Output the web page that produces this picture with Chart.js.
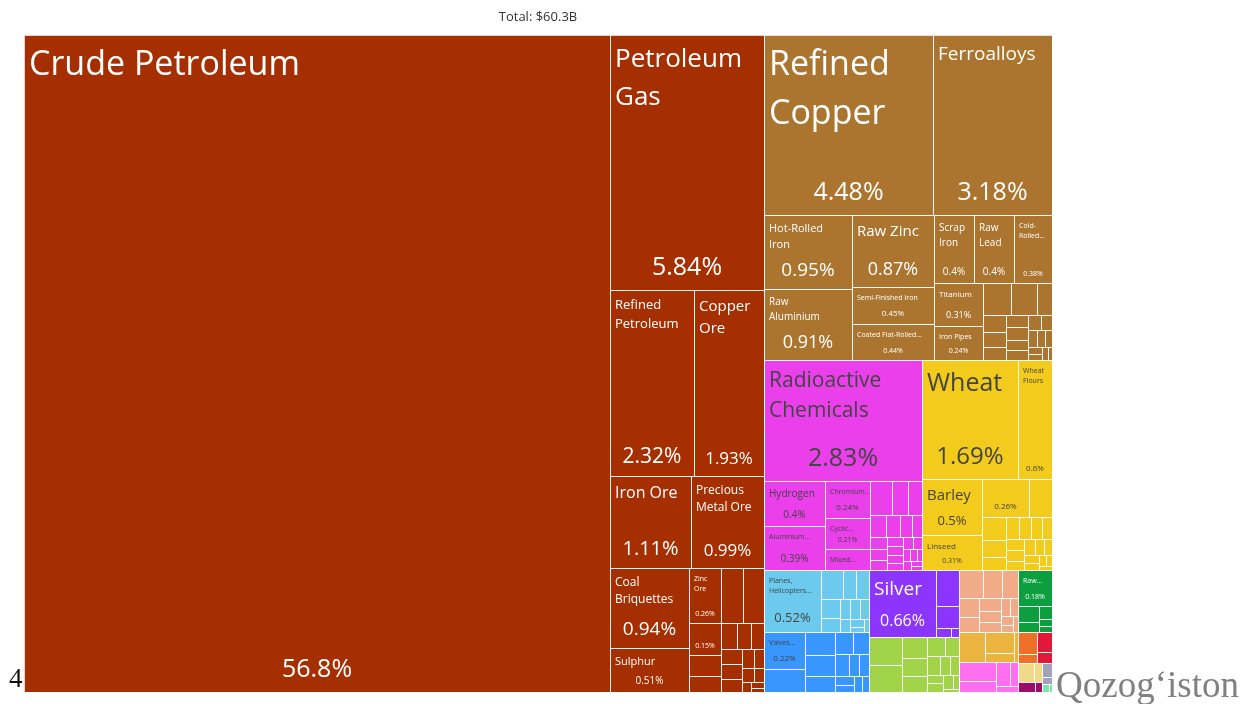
<!DOCTYPE html>
<html>
<head>
<meta charset="utf-8">
<title>Exports treemap</title>
<script src="https://cdn.jsdelivr.net/npm/chart.js@4.4.1/dist/chart.umd.min.js"></script>
<style>
  html, body { margin: 0; padding: 0; background: #fff; }
  #wrap { position: relative; width: 1241px; height: 704px; }
</style>
</head>
<body>
<div id="wrap"><canvas id="chart"></canvas></div>
<script>
/* ============================================================
   Export treemap - share of total exports (%), total $60.3B
   ============================================================ */

// --- DATA ---
const mineralNames = ["Crude Petroleum", "Petroleum Gas", "Refined Petroleum", "Copper Ore", "Iron Ore",
    "Precious Metal Ore", "Coal Briquettes", "Sulphur", "Zinc Ore", "Chromium Ore", "Lead Ore", "Manganese Ore",
    "Petroleum Coke", "Coal Tar Oil", "Titanium Ore", "Molybdenum Ore", "Cement", "Gypsum", "Salt",
    "Petroleum Jelly", "Asphalt", "Clays", "Quartz", "Lignite", "Aluminium Ore", "Tungsten Ore", "Kaolin"];
const mineralValues = [56.8, 5.84, 2.32, 1.93, 1.11, 0.99, 0.94, 0.51, 0.26, 0.18, 0.17, 0.15,
    0.1, 0.075, 0.062, 0.055, 0.05, 0.048, 0.045, 0.04, 0.035, 0.03, 0.025, 0.02, 0.015, 0.012, 0.008];

const metalNames = ["Refined Copper", "Ferroalloys", "Hot-Rolled Iron", "Raw Aluminium", "Raw Zinc",
    "Semi-Finished Iron", "Coated Flat-Rolled Iron", "Scrap Iron", "Raw Lead", "Cold-Rolled Iron", "Titanium",
    "Iron Pipes", "Copper Wire", "Aluminium Bars", "Iron Bars", "Raw Tin", "Iron Structures",
    "Stainless Steel Ingots", "Iron Wire", "Zinc Powder", "Aluminium Plating", "Copper Bars", "Iron Fasteners",
    "Aluminium Wire", "Tungsten", "Iron Blocks", "Copper Pipes", "Other Iron Products", "Hot-Rolled Iron Bars",
    "Large Flat-Rolled Stainless Steel", "Small Iron Pipes"];
const metalValues = [4.48, 3.18, 0.95, 0.91, 0.87, 0.45, 0.44, 0.4, 0.4, 0.38, 0.31, 0.24,
    0.13, 0.12, 0.07, 0.06, 0.05, 0.045, 0.04, 0.04, 0.035, 0.03, 0.03, 0.025, 0.022, 0.02, 0.018,
    0.015, 0.012, 0.01, 0.008];

const chemicalNames = ["Radioactive Chemicals", "Hydrogen", "Aluminium Oxide", "Chromium Oxides and Hydroxides",
    "Cyclic Hydrocarbons", "Mixed Mineral or Chemical Fertilizers", "Sulfuric Acid", "Phosphoric Acid",
    "Nitrogenous Fertilizers", "Rare-Earth Metal Compounds", "Fluorides", "Potassic Fertilizers", "Carbides",
    "Soap", "Beauty Products", "Cleaning Products", "Pesticides", "Packaged Medicaments", "Acyclic Alcohols",
    "Sulfides", "Chlorides", "Hydrazine", "Carbonates", "Sulfates", "Phosphinates", "Vaccines", "Metal Oxides", "Glues"];
const chemicalValues = [2.83, 0.4, 0.39, 0.24, 0.21, 0.14, 0.11, 0.08, 0.07, 0.055, 0.045, 0.04, 0.035,
    0.03, 0.028, 0.025, 0.022, 0.02, 0.02, 0.018, 0.016, 0.015, 0.013, 0.012, 0.01, 0.01, 0.008, 0.007];

const vegetableNames = ["Wheat", "Wheat Flours", "Barley", "Linseed", "Leguminous Vegetables", "Rapeseed",
    "Soybeans", "Dried Legumes", "Rice", "Cereal Meals", "Buckwheat", "Oats", "Maize", "Rye", "Hay", "Onions",
    "Potatoes", "Cotton Seeds", "Malt", "Starches", "Tea", "Spices", "Fruits", "Sunflower Seeds"];
const vegetableValues = [1.69, 0.6, 0.5, 0.31, 0.26, 0.13, 0.08, 0.06, 0.045, 0.04, 0.04, 0.035, 0.03,
    0.03, 0.03, 0.025, 0.025, 0.022, 0.02, 0.018, 0.015, 0.012, 0.01, 0.008];

const transportNames = ["Planes, Helicopters, and/or Spacecraft", "Railway Freight Cars", "Cars",
    "Delivery Trucks", "Vehicle Parts", "Railway Passenger Cars", "Tractors", "Motorcycles",
    "Railway Cargo Containers", "Trailers", "Aircraft Parts", "Buses", "Ships"];
const transportValues = [0.52, 0.093, 0.058, 0.053, 0.05, 0.04, 0.03, 0.03, 0.025, 0.02, 0.015, 0.012, 0.008];

const machineNames = ["Valves and Taps", "Computers", "Electrical Transformers", "Centrifuges",
    "Excavation Machinery", "Insulated Wire", "Broadcasting Equipment", "Liquid Pumps", "Gas Turbines",
    "Electric Motors", "Air Pumps", "Telephones", "Engine Parts", "Electrical Switches"];
const machineValues = [0.22, 0.14, 0.1, 0.09, 0.07, 0.06, 0.05, 0.045, 0.035, 0.03, 0.025, 0.02, 0.018, 0.015];

const preciousNames = ["Silver", "Gold", "Platinum", "Precious Metal Scraps", "Jewellery"];
const preciousValues = [0.66, 0.12, 0.075, 0.02, 0.01];

const foodNames = ["Concentrated Feed", "Manufactured Tobacco", "Flavored Water", "Confectionery", "Macaroni",
    "Chocolate", "Processed Fish", "Baked Goods", "Beer", "Hard Liquor", "Cereal Flakes", "Soups", "Sauces",
    "Yeast", "Juices"];
const foodValues = [0.14, 0.13, 0.08, 0.07, 0.06, 0.05, 0.04, 0.035, 0.03, 0.025, 0.02, 0.02, 0.012, 0.02, 0.008];

const plasticNames = ["Ethylene Polymers", "Propylene Polymers", "Rubber Tires", "Plastic Lids",
    "Raw Plastic Sheeting", "Plastic Pipes", "Synthetic Rubber", "Other Plastic Sheetings", "Rubber Belts",
    "Plastic Houseware", "Vinyl Chloride Polymers", "Styrene Polymers", "Rubber Pipes"];
const plasticValues = [0.1, 0.08, 0.065, 0.055, 0.045, 0.04, 0.035, 0.03, 0.025, 0.02, 0.015, 0.013, 0.01];

const textileNames = ["Raw Cotton", "Wool", "Cotton Yarn", "Synthetic Filament Yarn", "Knit T-shirts", "Jute Yarn"];
const textileValues = [0.18, 0.05, 0.03, 0.025, 0.015, 0.01];

const byproductNames = ["Sunflower Seed Oil", "Rapeseed Oil", "Soybean Oil", "Margarine"];
const byproductValues = [0.12, 0.09, 0.04, 0.02];

const stoneNames = ["Glass Bottles", "Ceramic Bricks", "Building Stone", "Glass Fibers", "Asbestos Cement Articles"];
const stoneValues = [0.1, 0.06, 0.05, 0.03, 0.02];

const animalNames = ["Non-fillet Frozen Fish", "Bovine Meat"];
const animalValues = [0.06, 0.025];
const hideNames = ["Equine and Bovine Hides", "Sheep Hides"];
const hideValues = [0.045, 0.025];
const paperNames = ["Paper Containers", "Newsprint"];
const paperValues = [0.045, 0.023];
const footwearNames = ["Leather Footwear", "Rubber Footwear"];
const footwearValues = [0.025, 0.01];
const instrumentNames = ["Medical Instruments", "Electrical Meters"];
const instrumentValues = [0.02, 0.01];
const miscNames = ["Seats", "Toys"];
const miscValues = [0.008, 0.004];

const groupNames = ["Mineral Products", "Metals", "Chemical Products", "Vegetable Products", "Transportation",
    "Machines", "Precious Metals", "Foodstuffs", "Plastics and Rubbers", "Textiles",
    "Animal and Vegetable Bi-Products", "Stone and Glass", "Animal Products", "Animal Hides", "Paper Goods",
    "Footwear and Headwear", "Instruments", "Miscellaneous"];
const groupItems = [mineralNames, metalNames, chemicalNames, vegetableNames, transportNames, machineNames,
    preciousNames, foodNames, plasticNames, textileNames, byproductNames, stoneNames, animalNames, hideNames,
    paperNames, footwearNames, instrumentNames, miscNames];
const groupValues = [mineralValues, metalValues, chemicalValues, vegetableValues, transportValues, machineValues,
    preciousValues, foodValues, plasticValues, textileValues, byproductValues, stoneValues, animalValues, hideValues,
    paperValues, footwearValues, instrumentValues, miscValues];

// --- STYLE ---
const groupColors = ["#A52F00", "#AB752F", "#EA3FEA", "#F2CB1C", "#6CCAEE", "#3896FF", "#8B35FF", "#A2D44A",
    "#F1AB88", "#0D9E40", "#EBB43F", "#FF6FF0", "#F26F2A", "#E0193B", "#EFDA8A", "#9C0C6B", "#A3A3B7", "#74E8AA"];
const PAD = 5, LINE = 1.45, NAME_MAX = 34, SHARE_MAX = 25, MIN_FONT = 7;
const PHI = (1 + Math.sqrt(5)) / 2;

const sum = arr => arr.reduce((a, b) => a + b, 0);
const font = size => `${size}px "Open Sans", sans-serif`;

const groups = groupNames.map((name, i) => ({
    name: name,
    color: groupColors[i],
    value: sum(groupValues[i]),
    children: groupItems[i].map((n, j) => ({ name: n, value: groupValues[i][j] }))
}));

// --- 1. SQUARIFIED LAYOUT (in 0..1 scale units, ratios measured in pixels) ---
function squarify(nodes, x0, y0, x1, y1, W, H) {
    nodes.sort((a, b) => b.value - a.value);
    let value = sum(nodes.map(d => d.value));
    let i0 = 0, i1 = 0;
    const n = nodes.length;
    while (i0 < n) {
        const dx = (x1 - x0) * W, dy = (y1 - y0) * H;
        let sumValue = nodes[i1++].value;
        let minV = sumValue, maxV = sumValue;
        const alpha = Math.max(dy / dx, dx / dy) / (value * PHI);
        let beta = sumValue * sumValue * alpha;
        let minRatio = Math.max(maxV / beta, beta / minV);
        for (; i1 < n; ++i1) {
            const v = nodes[i1].value;
            sumValue += v;
            if (v < minV) minV = v;
            if (v > maxV) maxV = v;
            beta = sumValue * sumValue * alpha;
            const newRatio = Math.max(maxV / beta, beta / minV);
            if (newRatio > minRatio) { sumValue -= v; break; }
            minRatio = newRatio;
        }
        const row = nodes.slice(i0, i1);
        if (dx < dy) {
            // row along the top
            const yy = y0 + (y1 - y0) * sumValue / value;
            let xx = x0;
            row.forEach(d => { d.x0 = xx; xx += (x1 - x0) * d.value / sumValue; d.x1 = xx; d.y0 = y0; d.y1 = yy; });
            y0 = yy;
        } else {
            // column on the left
            const xx = x0 + (x1 - x0) * sumValue / value;
            let yy = y0;
            row.forEach(d => { d.y0 = yy; yy += (y1 - y0) * d.value / sumValue; d.y1 = yy; d.x0 = x0; d.x1 = xx; });
            x0 = xx;
        }
        value -= sumValue;
        i0 = i1;
    }
}

// --- 2. LABEL HELPERS ---
function textColor(hex) {
    const r = parseInt(hex.substr(1, 2), 16), g = parseInt(hex.substr(3, 2), 16), b = parseInt(hex.substr(5, 2), 16);
    return (r * 299 + g * 587 + b * 114) / 1000 >= 128 ? '#444444' : '#ffffff';
}

function joinWord(line, word) { return line.endsWith('-') ? line + word : line + ' ' + word; }

function wrapWords(ctx, words, size, limit) {
    ctx.font = font(size);
    const lines = [];
    let cur = '';
    for (const wd of words) {
        if (ctx.measureText(wd).width > limit) return null;
        const next = cur ? joinWord(cur, wd) : wd;
        if (ctx.measureText(next).width <= limit) cur = next;
        else { lines.push(cur); cur = wd; }
    }
    if (cur) lines.push(cur);
    return lines;
}

function fitName(ctx, name, bw, bh) {
    const words = name.match(/[^\s-]+-?/g) || [];
    for (let f = NAME_MAX; f >= MIN_FONT; f--) {
        const limit = f > MIN_FONT ? bw * 0.9 : bw;
        const lines = wrapWords(ctx, words, f, limit);
        if (lines && lines.length * f * LINE <= bh) return { size: f, lines: lines };
    }
    // too long even at the smallest size: cut it and add an ellipsis
    const maxLines = Math.floor(bh / (MIN_FONT * LINE));
    if (maxLines < 1) return null;
    ctx.font = font(MIN_FONT);
    const lines = [];
    let cur = '', cut = false;
    for (const wd of words) {
        const next = cur ? joinWord(cur, wd) : wd;
        if (ctx.measureText(next).width <= bw) { cur = next; continue; }
        if (cur && lines.length + 1 < maxLines && ctx.measureText(wd).width <= bw) {
            lines.push(cur); cur = wd; continue;
        }
        cut = true;
        break;
    }
    if (!cur) return null;
    lines.push(cut ? cur.replace(/[,\s-]+$/, '') + '...' : cur);
    return { size: MIN_FONT, lines: lines };
}

function formatShare(v) { return parseFloat(v.toPrecision(3)) + '%'; }

function drawLabel(ctx, cell, color, px0, py0, px1, py1) {
    const w = px1 - px0, h = py1 - py0;
    const bw = w - 2 * PAD;
    if (bw <= 0 || h < 12) return;
    let sh = Math.min(50, (h - 10) * 0.5);
    if (sh < 10) sh = 0;
    const bh = h - sh - 2 * PAD;
    ctx.fillStyle = textColor(color);
    ctx.textBaseline = 'alphabetic';

    const label = (w >= 40 || h >= 30) ? fitName(ctx, cell.name, bw, bh) : null;
    if (label) {
        ctx.font = font(label.size);
        ctx.textAlign = 'left';
        label.lines.forEach((line, i) => {
            ctx.fillText(line, px0 + PAD, py0 + PAD + label.size + 1 + i * label.size * LINE);
        });
    }
    if (sh > 0) {
        const txt = formatShare(cell.value);
        ctx.font = font(100);
        const em = ctx.measureText(txt).width / 100;
        let fs = Math.min(SHARE_MAX, Math.floor(sh * 0.6), Math.floor(bw * 0.8 / em));
        if (fs < MIN_FONT) fs = (em * MIN_FONT <= bw) ? MIN_FONT : 0;
        if (fs) {
            ctx.font = font(fs);
            ctx.textAlign = 'center';
            ctx.fillText(txt, (px0 + px1) / 2, py1 - 4 - fs * 0.45);
        }
    }
}

// --- 3. TREEMAP PLUGIN (draws through the chart's x / y scales) ---
const treemapPlugin = {
    id: 'treemap',
    afterDatasetsDraw(chart) {
        const { ctx, chartArea, scales: { x, y } } = chart;
        const W = chartArea.right - chartArea.left, H = chartArea.bottom - chartArea.top;

        const top = groups.map(g => ({ group: g, value: g.value }));
        squarify(top, 0, 0, 1, 1, W, H);
        const cells = [];
        top.forEach(node => {
            const kids = node.group.children.map(c => ({ name: c.name, value: c.value }));
            squarify(kids, node.x0, node.y0, node.x1, node.y1, W, H);
            kids.forEach(k => cells.push({ cell: k, color: node.group.color }));
        });

        ctx.save();
        cells.forEach(c => {
            c.px0 = Math.round(x.getPixelForValue(c.cell.x0));
            c.px1 = Math.round(x.getPixelForValue(c.cell.x1));
            c.py0 = Math.round(y.getPixelForValue(c.cell.y0));
            c.py1 = Math.round(y.getPixelForValue(c.cell.y1));
            ctx.fillStyle = c.color;
            ctx.fillRect(c.px0, c.py0, c.px1 - c.px0, c.py1 - c.py0);
        });
        ctx.strokeStyle = 'rgba(255,255,255,0.78)';
        ctx.lineWidth = 1;
        cells.forEach(c => ctx.strokeRect(c.px0 + 0.5, c.py0 + 0.5, c.px1 - c.px0, c.py1 - c.py0));
        cells.forEach(c => drawLabel(ctx, c.cell, c.color, c.px0, c.py0, c.px1, c.py1));
        ctx.restore();
    },
    afterDraw(chart) {
        // stray page texts around the chart
        const ctx = chart.ctx;
        ctx.save();
        ctx.textAlign = 'left';
        ctx.textBaseline = 'alphabetic';
        ctx.fillStyle = '#111111';
        ctx.font = '27px "Liberation Serif", serif';
        ctx.fillText('4', 9, 687);
        ctx.fillStyle = '#808080';
        ctx.font = '37px "Liberation Serif", serif';
        ctx.fillText('Qozog\u2018iston', 1056, 697);
        ctx.restore();
    }
};

// --- 4. CHART ---
new Chart(document.getElementById('chart'), {
    type: 'scatter',
    data: {
        datasets: groups.map(g => ({ label: g.name, data: [], backgroundColor: g.color }))
    },
    options: {
        responsive: true,
        maintainAspectRatio: false,
        animation: false,
        layout: { padding: { left: 24, right: 189, top: 9.4, bottom: 12 } },
        scales: {
            x: { type: 'linear', min: 0, max: 1, display: false },
            y: { type: 'linear', min: 0, max: 1, reverse: true, display: false }
        },
        plugins: {
            legend: { display: false },
            tooltip: { enabled: false },
            title: {
                display: true,
                text: 'Total: $60.3B',
                color: '#333333',
                font: { family: 'Open Sans', size: 13, weight: 'normal' },
                padding: { top: 0, bottom: 10 }
            }
        }
    },
    plugins: [treemapPlugin]
});
</script>
</body>
</html>
